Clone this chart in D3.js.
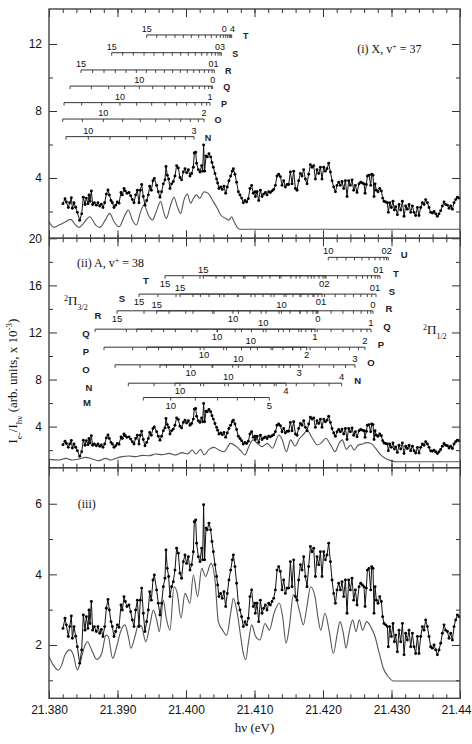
<!DOCTYPE html>
<meta charset="utf-8">
<script src="https://d3js.org/d3.v7.min.js"></script>
<style>body{margin:0;background:#fff}</style>
<div id="chart"></div>
<script>
// photon energy of the left axis edge; all energies below are meV above it
const E0 = 21.380;

// measured electron yield [meV above E0, signal x10^-3] (same trace in all panels)
const expData = [
  [2.04,2.47],[2.34,2.76],[2.53,2.57],[2.82,2.24],[3.02,2.52],[3.26,2.82],[3.41,2.19],[3.65,2.52],[3.89,2.25],[4.14,1.95],
  [4.48,1.48],[4.77,1.86],[5.01,2.85],[5.26,2.42],[5.45,2.80],[5.69,2.47],[5.84,2.99],[5.99,2.61],[6.18,3.23],[6.37,2.42],
  [6.62,2.52],[6.91,2.38],[7.15,2.52],[7.40,2.33],[7.64,2.44],[7.88,2.24],[8.13,2.52],[8.37,3.04],[8.61,3.29],[8.81,2.99],
  [9.05,2.66],[9.25,2.52],[9.49,2.24],[9.73,2.38],[9.98,2.57],[10.22,2.50],[10.51,3.13],[10.71,2.99],[10.95,3.37],[11.14,3.23],
  [11.39,3.09],[11.68,3.13],[11.92,2.94],[12.17,2.71],[12.41,2.52],[12.65,2.99],[12.90,3.27],[13.14,2.52],[13.33,3.27],[13.53,3.61],
  [13.77,2.90],[14.01,2.38],[14.26,2.66],[14.50,2.99],[14.70,3.51],[14.94,3.27],[15.18,3.84],[15.38,3.98],[15.71,3.56],[15.96,3.18],
  [16.20,2.85],[16.44,3.18],[16.69,3.65],[16.93,3.89],[17.08,4.69],[17.27,4.17],[17.47,3.94],[17.66,3.37],[17.90,3.65],[18.15,3.79],
  [18.39,4.12],[18.63,4.74],[18.88,4.60],[19.12,4.03],[19.36,3.89],[19.61,4.36],[19.85,4.55],[20.09,4.31],[20.34,4.50],[20.58,4.12],
  [20.82,4.27],[21.07,4.64],[21.21,5.49],[21.41,5.54],[21.55,4.88],[21.80,4.50],[22.04,4.36],[22.28,4.74],[22.43,4.41],[22.57,5.97],
  [22.72,4.41],[22.92,5.31],[23.11,5.26],[23.35,5.45],[23.60,5.26],[23.79,4.93],[23.99,4.64],[24.23,4.27],[24.47,3.94],[24.62,3.70],
  [24.81,3.37],[25.06,3.46],[25.30,3.32],[25.54,3.51],[25.79,3.09],[26.03,3.46],[26.27,3.84],[26.52,4.12],[26.76,4.41],[26.91,4.55],
  [27.15,4.22],[27.39,3.75],[27.64,3.18],[27.88,2.99],[28.12,2.80],[28.37,2.52],[28.61,2.66],[28.85,2.57],[29.10,2.76],[29.34,3.37],
  [29.58,3.56],[29.83,3.09],[30.07,3.18],[30.13,2.90],[30.37,3.18],[30.61,2.66],[30.86,3.27],[31.10,2.90],[31.34,3.04],[31.59,3.13],
  [31.83,2.99],[32.07,3.18],[32.32,3.13],[32.56,3.23],[32.80,3.32],[33.05,3.56],[33.29,4.12],[33.53,4.22],[33.78,4.08],[34.02,3.56],
  [34.26,3.84],[34.51,3.46],[34.75,3.61],[34.99,3.61],[35.24,4.36],[35.48,3.65],[35.72,4.41],[35.97,3.37],[36.21,3.27],[36.45,3.84],
  [36.70,4.27],[36.94,4.12],[37.18,4.50],[37.43,3.94],[37.67,3.65],[37.91,4.22],[38.16,4.79],[38.40,4.64],[38.64,4.74],[38.89,3.94],
  [39.13,4.50],[39.37,4.27],[39.62,4.64],[39.86,3.94],[40.10,4.64],[40.35,4.41],[40.59,4.55],[40.83,4.88],[41.08,4.36],[41.32,3.84],
  [41.56,3.46],[41.81,3.18],[42.05,3.56],[42.29,3.75],[42.54,3.56],[42.78,3.79],[43.02,3.37],[43.27,3.84],[43.51,2.90],[43.75,3.84],
  [44.00,3.56],[44.24,3.89],[44.48,3.27],[44.73,3.56],[44.97,3.13],[45.26,3.65],[45.50,3.75],[45.75,3.70],[45.99,3.65],[46.14,3.09],
  [46.33,3.61],[46.48,4.12],[46.72,4.17],[46.96,3.56],[47.11,4.22],[47.30,4.17],[47.45,2.90],[47.60,3.65],[47.79,3.27],[48.03,3.18],
  [48.28,3.37],[48.52,3.23],[48.71,2.80],[48.91,2.61],[49.15,2.57],[49.40,2.52],[49.54,1.95],[49.74,2.52],[49.98,2.24],[50.22,2.61],
  [50.42,2.09],[50.61,2.28],[50.86,1.81],[51.10,2.42],[51.34,2.09],[51.59,2.61],[51.83,1.72],[52.07,2.33],[52.32,2.14],[52.56,2.42],
  [52.80,1.95],[53.05,2.33],[53.29,1.95],[53.53,1.76],[53.78,2.24],[54.02,1.76],[54.26,2.24],[54.51,2.52],[54.75,2.42],[54.99,2.71],
  [55.24,2.52],[55.48,2.24],[55.72,1.95],[55.97,1.91],[56.21,2.00],[56.45,1.86],[56.70,1.72],[56.94,1.86],[57.18,2.05],[57.43,2.33],
  [57.67,2.57],[57.91,2.42],[58.16,2.38],[58.40,2.19],[58.64,2.33],[58.89,2.14],[59.13,2.52],[59.37,2.71],[59.62,2.85],[59.86,2.80]
];

// simulated spectrum, X state v+=37 [meV above E0, signal]
const simX = [
  [0,1.39],[0.73,1.05],[1.46,1.19],[2.43,1.39],[3.16,1.53],[3.89,1.19],[4.38,1.05],[5.11,1.33],[5.94,1.69],[6.81,1.19],
  [7.40,1.05],[8.27,1.53],[8.86,1.89],[9.49,1.39],[10.22,1.09],[11.09,1.79],[11.58,2.09],[12.17,1.49],[12.75,1.19],[13.38,1.99],
  [13.87,2.39],[14.50,1.79],[15.09,1.49],[15.57,1.89],[16.30,2.59],[16.79,1.89],[17.13,1.59],[17.76,2.39],[18.25,2.85],[18.73,2.29],
  [19.22,1.89],[19.71,2.69],[20.19,3.04],[20.68,2.49],[21.02,2.73],[21.51,2.99],[22.00,2.79],[22.63,3.18],[23.26,3.08],[23.84,2.69],
  [24.57,2.19],[25.06,1.79],[25.79,1.59],[26.28,1.49],[26.67,1.69],[27.01,1.39],[27.49,1.05],[27.83,0.94],[60,0.94]
];

// simulated spectrum, A state v+=38
const simA = [
  [0,1.22],[1.46,1.16],[2.43,1.30],[3.41,1.16],[4.38,1.25],[5.35,1.39],[6.33,1.25],[7.30,1.11],[8.27,1.30],[9.00,1.16],
  [9.73,1.30],[10.71,1.45],[11.68,1.50],[12.65,1.45],[13.63,1.56],[14.60,1.53],[15.57,1.67],[16.55,1.62],[17.52,1.73],[18.49,1.59],
  [19.46,1.79],[20.19,1.67],[20.92,2.01],[21.41,1.67],[22.14,2.07],[22.63,1.59],[23.36,2.07],[24.09,2.24],[24.82,2.01],[25.55,1.87],
  [26.52,2.58],[27.25,2.35],[27.98,1.96],[28.61,1.59],[29.20,2.35],[29.78,2.87],[30.41,2.58],[31.14,2.30],[31.87,2.58],[32.60,2.16],
  [33.58,3.29],[34.06,2.87],[34.65,1.87],[35.28,2.87],[35.91,2.35],[36.59,3.01],[37.08,3.29],[37.71,3.66],[38.44,3.01],[39.17,2.44],
  [39.81,2.64],[40.39,3.01],[41.12,2.44],[41.75,1.87],[42.34,2.58],[42.82,2.87],[43.41,2.07],[44.04,2.44],[44.53,2.01],[45.16,2.44],
  [45.74,2.52],[46.33,2.64],[46.96,2.58],[47.69,2.16],[48.42,1.59],[49.15,1.30],[49.88,1.11],[50.61,1.02],[60,1.02]
];

// simulated spectrum, sum of both states
const simSum = [
  [0,1.67],[0.63,1.43],[1.36,1.29],[1.85,1.43],[2.34,1.72],[3.07,1.86],[3.55,1.72],[4.14,1.29],[4.53,1.48],[5.11,1.91],
  [5.60,2.09],[6.23,1.86],[6.96,1.59],[7.69,1.76],[8.32,2.28],[8.66,2.24],[9.29,1.62],[9.88,1.95],[10.46,2.38],[11.09,2.57],
  [11.58,2.24],[11.97,1.91],[12.55,2.24],[13.04,2.57],[13.53,2.52],[14.11,2.09],[14.74,2.57],[15.23,2.99],[15.72,2.71],[16.11,2.38],
  [16.69,3.27],[17.08,2.80],[17.66,2.42],[18.25,3.65],[18.73,3.46],[19.27,2.76],[19.85,3.46],[20.58,3.18],[21.07,3.98],[21.70,3.37],
  [22.29,4.17],[22.87,3.94],[23.65,4.31],[24.23,3.84],[24.72,2.66],[25.35,2.42],[25.94,2.28],[26.52,2.90],[26.91,3.32],[27.49,2.90],
  [27.98,2.24],[28.37,1.76],[28.71,1.58],[29.10,2.05],[29.59,2.57],[30.17,2.24],[30.80,2.14],[31.53,2.61],[32.17,2.42],[32.85,2.90],
  [33.63,3.18],[34.11,2.80],[34.60,2.05],[35.09,2.52],[35.67,3.42],[36.16,3.27],[36.64,2.90],[37.13,2.57],[37.62,3.04],[38.20,3.65],
  [38.83,3.37],[39.32,2.71],[39.66,2.42],[40.29,2.90],[40.92,2.38],[41.51,1.76],[42.09,2.33],[42.48,2.66],[42.97,2.33],[43.36,1.91],
  [43.84,2.38],[44.33,2.71],[44.82,2.38],[45.30,2.71],[45.79,2.42],[46.37,2.66],[46.96,2.52],[47.59,2.24],[48.22,1.76],[48.81,1.34],
  [49.54,1.10],[50.27,0.98],[60,0.98]
];

// rotational branch ladders: tick energies (meV above E0), J labels
const xBranches = ["T","S","R","Q","P","O","N"];
const xTicks = {
  T: [14.26,15.72,17.08,18.39,19.61,20.78,21.85,22.82,23.70,24.43,25.01,25.45,25.79,26.08,26.33,26.52,26.67],
  S: [9.15,10.75,12.31,13.87,15.33,16.69,18.00,19.22,20.34,21.36,22.29,23.07,23.75,24.28,24.67,24.96,25.16],
  R: [4.67,6.37,8.03,9.68,11.24,12.75,14.21,15.57,16.84,18.05,19.17,20.19,21.12,21.95,22.68,23.31,23.80,24.14],
  Q: [3.07,6.18,8.71,11.05,13.19,15.13,16.89,18.44,19.81,20.97,21.95,22.73,23.31,23.70,23.89],
  P: [2.19,4.77,7.69,10.36,12.80,14.99,16.93,18.64,20.10,21.31,22.29,23.02,23.50],
  O: [2.00,4.87,7.93,10.75,13.33,15.57,17.57,19.22,20.63,21.80,22.63],
  N: [2.48,5.74,8.91,11.73,14.26,16.45,18.35,19.90,21.17]
};
const xJLabels = {
  T: [["15",14.26],["0",25.6],["4",26.8]],
  S: [["15",9.15],["03",24.95]],
  R: [["15",4.67],["01",24.0]],
  Q: [["10",13.19],["0",23.89]],
  P: [["10",10.36],["1",23.50]],
  O: [["10",7.93],["2",22.63]],
  N: [["10",5.74],["3",21.17]]
};

// A state, 2Pi3/2 component
const a32Branches = ["T","S","R","Q","P","O","N","M"];
const a32Ticks = {
  T: [16.93,19.56,22.04,24.38,26.57,28.61,30.51,32.26,33.87,35.33,36.64,37.81,38.69,39.42,40.00,40.44],
  S: [13.14,15.91,18.54,21.02,23.36,25.55,27.59,29.49,31.24,32.85,34.31,35.62,36.79,37.81,38.69,39.27,39.85],
  R: [9.93,13.87,17.52,21.02,24.09,26.86,29.34,31.68,33.58,35.18,36.64,37.66,38.54,38.98,39.27],
  Q: [6.72,11.28,14.99,18.44,21.62,24.53,27.18,29.56,31.68,33.53,35.12,36.45,37.50,38.31,38.83],
  P: [8.03,12.22,16.00,19.46,22.63,25.50,28.10,30.41,32.42,34.16,35.61,36.76,37.62],
  O: [9.64,13.28,17.14,20.69,23.91,26.82,29.40,31.66,33.59,35.21,36.50],
  N: [11.58,15.34,19.12,22.57,25.66,28.41,30.82,32.89,34.60],
  M: [13.77,17.77,21.37,24.61,27.49,30.00,32.16]
};
const a32JLabels = {
  T: [["15",16.93],["02",40.2]],
  S: [["15",13.14],["01",39.7]],
  R: [["15",9.93],["10",26.86],["0",39.27]],
  Q: [["10",24.53],["1",38.83]],
  P: [["10",22.63],["2",37.62]],
  O: [["10",20.69],["3",36.50]],
  N: [["10",19.12],["4",34.60]],
  M: [["10",17.77],["5",32.16]]
};

// A state, 2Pi1/2 component
const a12Branches = ["U","T","S","R","Q","P","O","N"];
const a12Ticks = {
  U: [40.77,42.04,43.36,44.60,45.69,46.72,47.59,48.32,48.91,49.27,49.53],
  T: [22.53,25.58,28.38,31.11,33.65,36.07,38.29,40.29,42.13,43.65,44.86,45.77,46.50,47.08,47.61,47.99,48.32],
  S: [19.12,22.10,24.91,27.56,30.09,32.39,34.60,36.63,38.53,40.23,41.78,43.21,44.45,45.53,46.48,47.11,47.74],
  R: [15.72,19.96,23.90,27.66,30.98,33.94,36.63,39.12,41.17,42.91,44.45,45.56,46.51,46.98,47.30],
  Q: [12.80,16.73,20.80,24.60,28.09,31.28,34.20,36.82,39.15,41.18,42.93,44.39,45.55,46.42,47.01],
  P: [14.26,17.90,22.07,25.91,29.45,32.66,35.55,38.12,40.35,42.28,43.88,45.17,46.13],
  O: [16.20,19.64,23.81,27.64,31.11,34.25,37.02,39.46,41.55,43.28,44.67],
  N: [18.39,22.13,26.18,29.85,33.17,36.10,38.69,40.89,42.73]
};
const a12JLabels = {
  U: [["10",40.77],["02",49.3]],
  T: [["15",22.53],["01",48.1]],
  S: [["15",19.12],["01",47.6]],
  R: [["15",15.72],["10",33.94],["0",47.30]],
  Q: [["10",31.28],["1",47.01]],
  P: [["10",29.45],["2",46.13]],
  O: [["10",27.64],["3",44.67]],
  N: [["10",26.18],["4",42.73]]
};

// axis ticks
const xMajor = [21.38, 21.39, 21.40, 21.41, 21.42, 21.43, 21.44];
const xMinor = d3.range(21.382, 21.4401, 0.002);

// ---- layout ----
const W = 472, H = 744, L = 49, R = 460;
const sans = "'Liberation Sans', Arial, sans-serif";
const serif = "'Liberation Serif', 'Times New Roman', serif";

// ladder row levels (in each panel's y units) and left-name columns (px)
const xRows = {T:12.54, S:11.48, R:10.45, Q:9.49, P:8.50, O:7.52, N:6.47};
const aRows = {U:18.38, T:16.82, S:15.26, R:13.84, Q:12.28, P:10.75, O:9.25, N:7.69, M:6.47};
const a32NamePx = {T:146, S:122, R:98, Q:86, P:86, O:86, N:89, M:87};

const panels = [
  {top: 9, bottom: 238.3, domain: [0.4, 14.09], major: [4,8,12], minor: [2,6,10], sim: simX},
  {top: 238.3, bottom: 467.7, domain: [0.51, 20], major: [4,8,12,16,20], minor: [2,6,10,14,18], sim: simA},
  {top: 467.7, bottom: 698.3, domain: [0.49, 7.02], major: [2,4,6], minor: [1,3,5], sim: simSum, xLabels: true}
];

const svg = d3.select("#chart").append("svg")
  .attr("width", W).attr("height", H)
  .style("background", "#fff");

const x = d3.scaleLinear().domain([21.38, 21.44]).range([L, R]);
const ex = m => x(E0 + m / 1000);

function styleAxis(sel) {
  sel.select(".domain").remove();
  sel.selectAll(".tick line").attr("stroke", "#333").attr("stroke-width", 1);
  sel.selectAll("text").attr("font-family", sans).attr("font-size", 12).attr("fill", "#111");
}

const xFmt = d => d > 21.439 ? "21.44" : d3.format(".3f")(d);

const yScales = panels.map(p => {
  const y = d3.scaleLinear().domain(p.domain).range([p.bottom, p.top]);
  const g = svg.append("g");

  // simulation
  g.append("path").datum(p.sim)
    .attr("fill", "none").attr("stroke", "#555").attr("stroke-width", 1.1)
    .attr("d", d3.line().x(d => ex(d[0])).y(d => y(d[1])).curve(d3.curveMonotoneX));

  // experiment
  g.append("path").datum(expData)
    .attr("fill", "none").attr("stroke", "#111").attr("stroke-width", 1)
    .attr("d", d3.line().x(d => ex(d[0])).y(d => y(d[1])));
  g.selectAll("circle").data(expData).join("circle")
    .attr("cx", d => ex(d[0])).attr("cy", d => y(d[1]))
    .attr("r", 1.45).attr("fill", "#000");

  // axes, ticks inward
  g.append("g").attr("transform", `translate(0,${p.bottom})`)
    .call(d3.axisBottom(x).tickValues(xMinor).tickSize(-4).tickFormat("")).call(styleAxis);
  const xb = g.append("g").attr("transform", `translate(0,${p.bottom})`)
    .call(d3.axisBottom(x).tickValues(xMajor).tickSize(-8).tickPadding(7)
      .tickFormat(p.xLabels ? xFmt : "")).call(styleAxis);
  // last label squeezed against the right edge, as in the original
  xb.selectAll(".tick text").filter(d => d > 21.439)
    .attr("text-anchor", "end").attr("dx", 11);
  g.append("g").attr("transform", `translate(0,${p.top})`)
    .call(d3.axisTop(x).tickValues(xMinor).tickSize(-4).tickFormat("")).call(styleAxis);
  g.append("g").attr("transform", `translate(0,${p.top})`)
    .call(d3.axisTop(x).tickValues(xMajor).tickSize(-8).tickFormat("")).call(styleAxis);
  g.append("g").attr("transform", `translate(${L},0)`)
    .call(d3.axisLeft(y).tickValues(p.minor).tickSize(-4).tickFormat("")).call(styleAxis);
  g.append("g").attr("transform", `translate(${L},0)`)
    .call(d3.axisLeft(y).tickValues(p.major).tickSize(-8).tickPadding(7).tickFormat(d3.format("d"))).call(styleAxis);
  g.append("g").attr("transform", `translate(${R},0)`)
    .call(d3.axisRight(y).tickValues(p.minor).tickSize(-4).tickFormat("")).call(styleAxis);
  g.append("g").attr("transform", `translate(${R},0)`)
    .call(d3.axisRight(y).tickValues(p.major).tickSize(-8).tickFormat("")).call(styleAxis);

  g.append("rect").attr("x", L).attr("y", p.top)
    .attr("width", R - L).attr("height", p.bottom - p.top)
    .attr("fill", "none").attr("stroke", "#444").attr("stroke-width", 1.4);
  return y;
});

// ---- ladders ----
function ladder(y, level, ticks, labels, name, o) {
  const g = svg.append("g");
  const yy = y(level);
  const x0 = ex(d3.min(ticks)), x1 = ex(d3.max(ticks));
  g.append("line").attr("x1", x0).attr("x2", x1).attr("y1", yy).attr("y2", yy)
    .attr("stroke", "#333").attr("stroke-width", 1);
  g.selectAll("line.t").data(ticks).join("line").attr("class", "t")
    .attr("x1", d => ex(d)).attr("x2", d => ex(d))
    .attr("y1", yy).attr("y2", yy + 3)
    .attr("stroke", "#333").attr("stroke-width", 0.9);
  g.selectAll("text.j").data(labels).join("text").attr("class", "j")
    .attr("x", d => ex(d[1])).attr("y", o.below ? yy + 11 : yy - 3)
    .attr("text-anchor", "middle")
    .attr("font-family", sans).attr("font-size", o.jSize).attr("fill", "#111")
    .text(d => d[0]);
  const nx = o.namePx != null ? o.namePx : x1 + o.nameGap;
  g.append("text").attr("x", nx).attr("y", yy + o.nameDy)
    .attr("text-anchor", "middle")
    .attr("font-family", sans).attr("font-size", o.nameSize).attr("font-weight", "bold")
    .attr("fill", "#222").text(name);
}

xBranches.forEach(b => ladder(yScales[0], xRows[b], xTicks[b], xJLabels[b], b,
  {below: false, jSize: 9, nameSize: 9, nameGap: 14, nameDy: 4}));
a32Branches.forEach(b => ladder(yScales[1], aRows[b], a32Ticks[b], a32JLabels[b], b,
  {below: true, jSize: 9.5, nameSize: 9.5, namePx: a32NamePx[b], nameDy: 8}));
a12Branches.forEach(b => ladder(yScales[1], aRows[b], a12Ticks[b], a12JLabels[b], b,
  {below: false, jSize: 9.5, nameSize: 9.5, nameGap: 16, nameDy: 1}));

// ---- texts ----
function sText(xp, yp, size, anchor) {
  return svg.append("text").attr("x", xp).attr("y", yp)
    .attr("font-family", serif).attr("font-size", size).attr("fill", "#111")
    .attr("text-anchor", anchor || "start");
}

let t = sText(ex(45.0), yScales[0](11.7) + 4, 12);
t.append("tspan").text("(i) X, v");
t.append("tspan").attr("baseline-shift", "super").attr("font-size", 8).text("+");
t.append("tspan").text(" = 37");

t = sText(ex(4.1), yScales[1](17.9) + 4, 12);
t.append("tspan").text("(ii) A, v");
t.append("tspan").attr("baseline-shift", "super").attr("font-size", 8).text("+");
t.append("tspan").text(" = 38");

sText(ex(4.2), yScales[2](6.0) + 4, 12).text("(iii)");

t = sText(ex(2.2), yScales[1](14.64) + 4, 13);
t.append("tspan").attr("baseline-shift", "super").attr("font-size", 8).text("2");
t.append("tspan").text("Π");
t.append("tspan").attr("baseline-shift", "sub").attr("font-size", 8).text("3/2");

t = sText(ex(54.6), yScales[1](12.23) + 4, 13);
t.append("tspan").attr("baseline-shift", "super").attr("font-size", 8).text("2");
t.append("tspan").text("Π");
t.append("tspan").attr("baseline-shift", "sub").attr("font-size", 8).text("1/2");

// y label
t = svg.append("text")
  .attr("transform", "translate(17,381) rotate(-90)")
  .attr("text-anchor", "middle")
  .attr("font-family", serif).attr("font-size", 13).attr("fill", "#111");
t.append("tspan").text("I");
t.append("tspan").attr("baseline-shift", "sub").attr("font-size", 9).text("e-");
t.append("tspan").text("/I");
t.append("tspan").attr("baseline-shift", "sub").attr("font-size", 9).text("hν");
t.append("tspan").text(" (arb. units, x 10");
t.append("tspan").attr("baseline-shift", "super").attr("font-size", 9).text("-3");
t.append("tspan").text(")");

// x label
sText((L + R) / 2, 732, 13, "middle").text("hν (eV)");
</script>
